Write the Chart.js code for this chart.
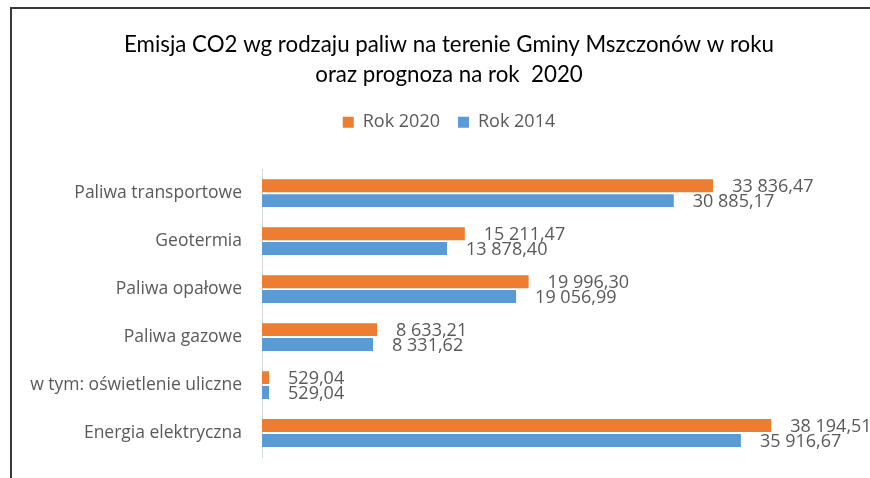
<!DOCTYPE html>
<html>
<head>
<meta charset="utf-8">
<script src="https://cdn.jsdelivr.net/npm/chart.js@4.4.1/dist/chart.umd.min.js"></script>
<style>
  html,body{margin:0;padding:0;background:#fff;overflow:hidden}
  #wrap{position:relative;width:870px;height:478px}
  #frame{position:absolute;left:10px;top:7px;width:900px;height:500px;border:2px solid #3a3a3a;box-sizing:border-box;pointer-events:none}
  canvas{position:absolute;left:0;top:0}
</style>
</head>
<body>
<div id="wrap">
  <div id="frame"></div>
  <canvas id="c" width="870" height="478"></canvas>
</div>
<script>
// dane z wykresu
const categories=['Paliwa transportowe','Geotermia','Paliwa opałowe','Paliwa gazowe','w tym: oświetlenie uliczne','Energia elektryczna'];
const rok2020=[33836.47,15211.47,19996.30,8633.21,529.04,38194.51];
const rok2014=[30885.17,13878.40,19056.99,8331.62,529.04,35916.67];

const GRAY='#595959';
const FONT="'Open Sans', sans-serif";

function fmt(v){
  const [i,d]=v.toFixed(2).split('.');
  return i.replace(/\B(?=(\d{3})+(?!\d))/g,' ')+','+d;
}

const valueLabels={
  id:'valueLabels',
  afterDatasetsDraw(chart){
    const ctx=chart.ctx;
    ctx.save();
    ctx.font="18px "+FONT;
    ctx.fillStyle=GRAY;
    ctx.textBaseline='middle';
    ctx.textAlign='left';
    chart.data.datasets.forEach((ds,di)=>{
      chart.getDatasetMeta(di).data.forEach((el,i)=>{
        ctx.fillText(fmt(ds.data[i]),el.x+19,el.y+1);
      });
    });
    ctx.restore();
  }
};

new Chart(document.getElementById('c'),{
  type:'bar',
  data:{
    labels:categories,
    datasets:[
      {label:'Rok 2020',data:rok2020,backgroundColor:'#ED7D31'},
      {label:'Rok 2014',data:rok2014,backgroundColor:'#5B9BD5'}
    ]
  },
  options:{
    indexAxis:'y',
    responsive:false,
    animation:false,
    categoryPercentage:0.62,
    barPercentage:0.87,
    layout:{autoPadding:false,padding:{left:28,right:0,top:0,bottom:21}},
    scales:{
      x:{
        position:'top',min:0,max:45600,
        ticks:{display:false},
        grid:{display:false},
        border:{display:false},
        title:{display:true,text:'',font:{size:10},padding:{top:4,bottom:4}}
      },
      y:{
        grid:{display:false,drawTicks:false},
        border:{display:true,color:'#d9d9d9',width:1},
        ticks:{color:GRAY,font:{family:FONT,size:17.5},padding:20},
        afterFit:s=>{s.width=234;s.paddingTop=0;s.paddingBottom=0;}
      }
    },
    plugins:{
      title:{
        display:true,
        text:['Emisja CO2 wg rodzaju paliw na terenie Gminy Mszczonów w roku','oraz prognoza na rok  2020'],
        color:'#000',
        font:{family:"Lato, sans-serif",size:22.3,weight:'normal',lineHeight:1.35},
        padding:{top:30,bottom:5}
      },
      legend:{
        labels:{color:GRAY,font:{family:FONT,size:18},boxWidth:11,boxHeight:11,padding:18}
      },
      tooltip:{enabled:false}
    }
  },
  plugins:[valueLabels]
});
</script>
</body>
</html>
